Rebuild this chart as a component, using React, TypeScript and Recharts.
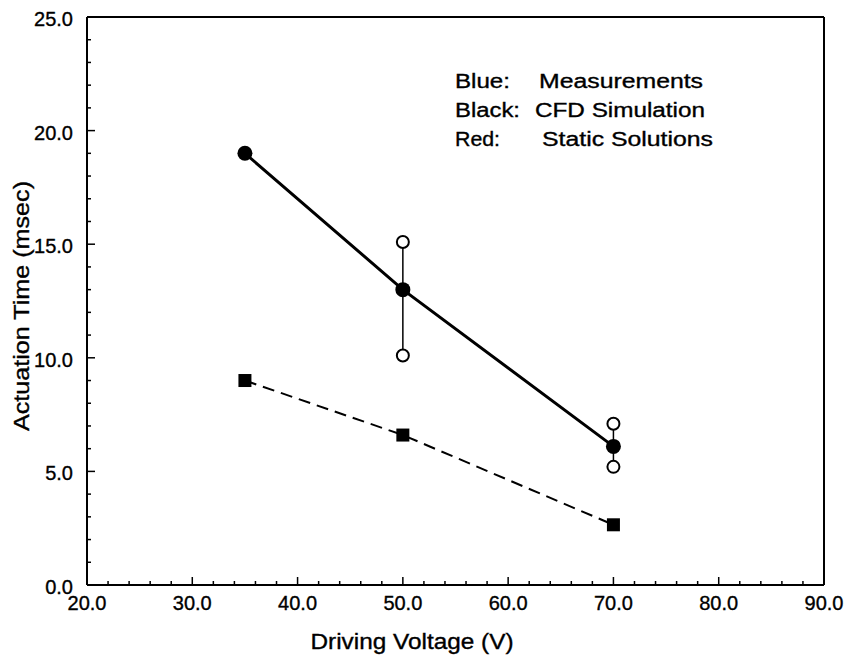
import React from 'react';
import { ComposedChart, Scatter, XAxis, YAxis } from 'recharts';

// Driving voltage (V) of each case
const voltages = [35, 50, 70];
// CFD simulation actuation times (msec)
const cfdTimes = [19.0, 13.0, 6.1];
// Static solution actuation times (msec)
const staticTimes = [9.0, 6.6, 2.65];
// Measured spread at 50 V and 70 V (msec): [upper, lower]
const measured50 = [15.1, 10.1];
const measured70 = [7.1, 5.2];

// Axis tick values
const xTicks = [20, 22, 24, 26, 28, 30, 32, 34, 36, 38, 40, 42, 44, 46, 48, 50, 52, 54, 56, 58, 60, 62, 64, 66, 68, 70, 72, 74, 76, 78, 80, 82, 84, 86, 88, 90];
const yTicks = [0, 1, 2, 3, 4, 5, 6, 7, 8, 9, 10, 11, 12, 13, 14, 15, 16, 17, 18, 19, 20, 21, 22, 23, 24, 25];

const cfdData = voltages.map((v, i) => ({ x: v, y: cfdTimes[i] }));
const staticData = voltages.map((v, i) => ({ x: v, y: staticTimes[i] }));
const meas50Data = measured50.map((t) => ({ x: 50, y: t }));
const meas70Data = measured70.map((t) => ({ x: 70, y: t }));

const FONT = '"Liberation Sans", Arial, Helvetica, sans-serif';
const MAJOR = 8;
const MINOR = 4;
// slight outline so the lettering reads as heavy as the printed axes
const INK = { fill: '#000', stroke: '#000', strokeWidth: 0.35 };

const BottomTick = (p: any) => {
  const v = p.payload.value;
  const major = v % 10 === 0;
  return (
    <g>
      <line x1={p.x} x2={p.x} y1={p.y} y2={p.y - (major ? MAJOR : MINOR)} stroke="#000" strokeWidth={1.5} />
      {major && (
        <text x={p.x} y={p.y + 18} textAnchor="middle" dominantBaseline="central" fontFamily={FONT} fontSize={20} {...INK}>
          {v.toFixed(1)}
        </text>
      )}
    </g>
  );
};

const TopTick = (p: any) => {
  const v = p.payload.value;
  const major = v % 10 === 0;
  return <line x1={p.x} x2={p.x} y1={p.y} y2={p.y + (major ? MAJOR : MINOR)} stroke="#000" strokeWidth={1.5} />;
};

const LeftTick = (p: any) => {
  const v = p.payload.value;
  const major = v % 5 === 0;
  return (
    <g>
      <line x1={p.x} x2={p.x + (major ? MAJOR : MINOR)} y1={p.y} y2={p.y} stroke="#000" strokeWidth={1.5} />
      {major && (
        <text x={p.x - 14} y={p.y + 2} textAnchor="end" dominantBaseline="central" fontFamily={FONT} fontSize={20} {...INK}>
          {v.toFixed(1)}
        </text>
      )}
    </g>
  );
};

const RightTick = (p: any) => {
  const v = p.payload.value;
  const major = v % 5 === 0;
  return <line x1={p.x} x2={p.x - (major ? MAJOR : MINOR)} y1={p.y} y2={p.y} stroke="#000" strokeWidth={1.5} />;
};

const FilledDot = (p: any) => <circle cx={p.cx} cy={p.cy} r={7.5} fill="#000" stroke="none" />;
const OpenDot = (p: any) => <circle cx={p.cx} cy={p.cy} r={6} fill="#fff" stroke="#000" strokeWidth={2} />;
const SquareDot = (p: any) => <rect x={p.cx - 6.5} y={p.cy - 6.5} width={13} height={13} fill="#000" />;

const axisLine = { stroke: '#000', strokeWidth: 2 };

export default function App() {
  return (
    <div style={{ width: 848, height: 656, background: '#fff' }}>
      <style>{'html, body { margin: 0; padding: 0; background: #fff; }'}</style>
      <ComposedChart width={848} height={656} margin={{ top: 0, right: 0, bottom: 0, left: 0 }}>
        <XAxis xAxisId="b" orientation="bottom" type="number" dataKey="x" domain={[20, 90]} ticks={xTicks} interval={0}
          height={71} tickSize={0} tickMargin={0} tickLine={false} axisLine={axisLine} tick={<BottomTick />} />
        <XAxis xAxisId="t" orientation="top" type="number" dataKey="x" domain={[20, 90]} ticks={xTicks} interval={0}
          height={17} tickSize={0} tickMargin={0} tickLine={false} axisLine={axisLine} tick={<TopTick />} />
        <YAxis yAxisId="l" orientation="left" type="number" dataKey="y" domain={[0, 25]} ticks={yTicks} interval={0}
          width={87} tickSize={0} tickMargin={0} tickLine={false} axisLine={axisLine} tick={<LeftTick />} />
        <YAxis yAxisId="r" orientation="right" type="number" dataKey="y" domain={[0, 25]} ticks={yTicks} interval={0}
          width={24} tickSize={0} tickMargin={0} tickLine={false} axisLine={axisLine} tick={<RightTick />} />

        <Scatter xAxisId="b" yAxisId="l" data={meas50Data} line={{ stroke: '#000', strokeWidth: 1.5 }} shape={<OpenDot />} isAnimationActive={false} />
        <Scatter xAxisId="b" yAxisId="l" data={meas70Data} line={{ stroke: '#000', strokeWidth: 1.5 }} shape={<OpenDot />} isAnimationActive={false} />
        <Scatter xAxisId="b" yAxisId="l" data={cfdData} line={{ stroke: '#000', strokeWidth: 3 }} shape={<FilledDot />} isAnimationActive={false} />
        <Scatter xAxisId="b" yAxisId="l" data={staticData} line={{ stroke: '#000', strokeWidth: 2, strokeDasharray: '12 7' }} shape={<SquareDot />} isAnimationActive={false} />

        <g fontFamily={FONT} {...INK}>
          <text x={21} y={306} transform="rotate(-90 21 306)" textAnchor="middle" dominantBaseline="central" fontSize={22} textLength={250} lengthAdjust="spacingAndGlyphs">
            Actuation Time (msec)
          </text>
          <text x={412} y={641} textAnchor="middle" dominantBaseline="central" fontSize={22} textLength={203} lengthAdjust="spacingAndGlyphs">
            Driving Voltage (V)
          </text>
          <text x={455} y={88} fontSize={20} textLength={55} lengthAdjust="spacingAndGlyphs">Blue:</text>
          <text x={539} y={88} fontSize={20} textLength={164} lengthAdjust="spacingAndGlyphs">Measurements</text>
          <text x={455} y={117} fontSize={20} textLength={65} lengthAdjust="spacingAndGlyphs">Black:</text>
          <text x={535} y={117} fontSize={20} textLength={170} lengthAdjust="spacingAndGlyphs">CFD Simulation</text>
          <text x={455} y={146} fontSize={20} textLength={45} lengthAdjust="spacingAndGlyphs">Red:</text>
          <text x={542} y={146} fontSize={20} textLength={171} lengthAdjust="spacingAndGlyphs">Static Solutions</text>
        </g>
      </ComposedChart>
    </div>
  );
}
